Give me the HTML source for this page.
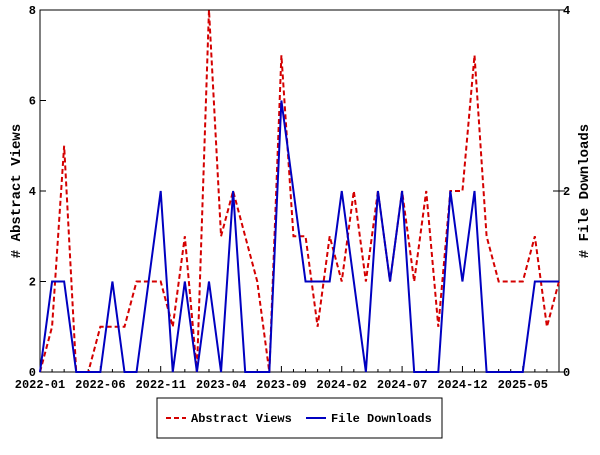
<!DOCTYPE html>
<html><head><meta charset="utf-8"><style>
body{margin:0;background:#fff;}
svg text{font-family:"Liberation Mono",monospace;font-size:12px;font-weight:bold;fill:#000;}
</style></head><body>
<svg id="chart" width="600" height="450" xmlns="http://www.w3.org/2000/svg">
<rect x="0" y="0" width="600" height="450" fill="#fff"/>
<g id="plot"></g>
</svg>
<script>
const tickLabels=["2022-01","2022-06","2022-11","2023-04","2023-09","2024-02","2024-07","2024-12","2025-05"];
const abstractViews=[0,1,5,0,0,1,1,1,2,2,2,1,3,0,8,3,4,3,2,0,7,3,3,1,3,2,4,2,4,2,4,2,4,1,4,4,7,3,2,2,2,3,1,2];
const fileDownloads=[0,1,1,0,0,0,1,0,0,1,2,0,1,0,1,0,2,0,0,0,3,2,1,1,1,2,1,0,2,1,2,0,0,0,2,1,2,0,0,0,0,1,1,1];
const leftTicks=[0,2,4,6,8];
const rightTicks=[0,2,4];
const L=40,R=559,T=10,B=372;
const n=abstractViews.length;
const xs=i=>L+(R-L)*i/(n-1);
const yL=v=>B-(B-T)*v/8;
const yR=v=>B-(B-T)*v/4;
const NS="http://www.w3.org/2000/svg";
const g=document.getElementById('plot');
function mk(tag,attrs,parent){const e=document.createElementNS(NS,tag);for(const k in attrs)e.setAttribute(k,attrs[k]);(parent||g).appendChild(e);return e;}
let fr=mk('rect',{x:L,y:T,width:R-L,height:B-T,fill:'none',stroke:'#000','stroke-width':1});


for(let i=0;i<n;i++){let t=mk('line',{x1:xs(i),x2:xs(i),y1:B,y2:B-(i%5===0?6:3),stroke:'#000'});

}
tickLabels.forEach((lab,k)=>{const x=xs(k*5);
let t=mk('text',{x:x,y:388,'text-anchor':'middle'});t.textContent=lab;

});
leftTicks.forEach(v=>{let l=mk('line',{x1:L,x2:L+6,y1:yL(v),y2:yL(v),stroke:'#000'});


let t=mk('text',{x:L-4,y:yL(v)+4,'text-anchor':'end'});t.textContent=v;

});
rightTicks.forEach(v=>{let l=mk('line',{x1:R-6,x2:R+6,y1:yR(v),y2:yR(v),stroke:'#000'});


let t=mk('text',{x:R+4,y:yR(v)+4,'text-anchor':'start'});t.textContent=v;

});
let yt=mk('text',{x:20,y:191,'text-anchor':'middle',transform:'rotate(-90 20 191)',style:'font-size:14px'});yt.textContent='# Abstract Views';


let yt2=mk('text',{x:588,y:191,'text-anchor':'middle',transform:'rotate(-90 588 191)',style:'font-size:14px'});yt2.textContent='# File Downloads';


let p1=mk('polyline',{points:abstractViews.map((v,i)=>xs(i)+','+yL(v)).join(' '),fill:'none',stroke:'#d40000','stroke-width':2,'stroke-dasharray':'5,3'});


let p2=mk('polyline',{points:fileDownloads.map((v,i)=>xs(i)+','+yR(v)).join(' '),fill:'none',stroke:'#0000c0','stroke-width':2});


let lg=mk('g',{});


mk('rect',{x:157,y:398,width:285,height:40,fill:'#fff',stroke:'#000'},lg);
mk('line',{x1:166,x2:186,y1:418,y2:418,stroke:'#d40000','stroke-width':2,'stroke-dasharray':'5,3'},lg);
let a=mk('text',{x:191,y:422},lg);a.textContent='Abstract Views';


mk('line',{x1:306,x2:326,y1:418,y2:418,stroke:'#0000c0','stroke-width':2},lg);
let b=mk('text',{x:331,y:422},lg);b.textContent='File Downloads';


</script>
</body></html>
